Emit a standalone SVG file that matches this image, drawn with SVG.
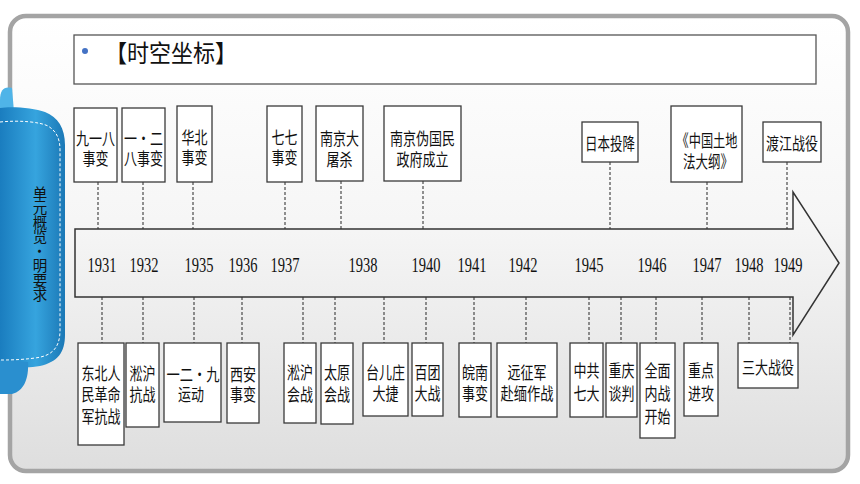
<svg xmlns="http://www.w3.org/2000/svg" width="860" height="484" viewBox="0 0 860 484">
<defs>
<linearGradient id="panel" x1="0" y1="0" x2="0" y2="1">
<stop offset="0" stop-color="#ffffff"/>
<stop offset="0.45" stop-color="#f6f6f6"/>
<stop offset="1" stop-color="#dedede"/>
</linearGradient>
<linearGradient id="tab" x1="0" y1="0" x2="1" y2="0">
<stop offset="0" stop-color="#1a7dbf"/>
<stop offset="0.55" stop-color="#36a4de"/>
<stop offset="1" stop-color="#1b78b6"/>
</linearGradient>
<style>
.box{fill:#ffffff;stroke:#3a3a3a;stroke-width:1.3}
.t{font-family:"Noto Sans CJK SC","Noto Sans",sans-serif;font-size:17px;fill:#111;text-anchor:middle;dominant-baseline:central}
.yr{font-family:"Liberation Serif","DejaVu Serif",serif;font-size:20px;fill:#111;text-anchor:middle}
.dash{stroke:#3a3a3a;stroke-width:1.1;stroke-dasharray:3 2;fill:none}
</style>
</defs>
<rect x="0" y="0" width="860" height="484" fill="#ffffff"/>
<rect x="10" y="16" width="838" height="455" rx="16" fill="url(#panel)" stroke="#a4a4a4" stroke-width="4.5"/>
<g id="title">
<rect x="74" y="35" width="742" height="49" fill="#ffffff" stroke="#555" stroke-width="1.3"/>
<circle cx="85" cy="51" r="3" fill="#4472c4"/>
<text x="105" y="51" font-family="'Noto Sans CJK SC','Noto Sans',sans-serif" font-size="24" fill="#111" dominant-baseline="central" textLength="132" lengthAdjust="spacingAndGlyphs">【时空坐标】</text>
</g>
<g id="tab">
<path d="M0,100 C0,90 4,86 12,88 L14,112 L0,112 Z" fill="#4fb4e8"/>
<path d="M0,108 C12,106 34,108 45,112 C58,117 65,128 65,145 L65,335 C65,352 58,362 40,366 C25,369 10,366 0,365 Z" fill="url(#tab)"/>
<path d="M0,360 L28,362 C29,378 24,391 12,394 L0,394 Z" fill="#2a8fcf"/>
<path d="M0,122 C20,120 40,122 48,126 C56,131 60,138 60,150 L60,330 C60,348 52,356 35,358 C20,360 8,360 0,360" fill="none" stroke="#ffffff" stroke-width="1" stroke-dasharray="3 2"/>
<text x="40" y="244" writing-mode="vertical-rl" text-anchor="middle" font-family="'Noto Sans CJK SC','Noto Sans',sans-serif" font-size="14.5" fill="#111">单元概览·明要求</text>
</g>
<g id="connectors">
<path class="dash" d="M98,182V229M143,182V229M193,182V229M285,182V229M341,181V229M423,181V229M610,162V229M707,182V229M787,162V229"/>
<path class="dash" d="M102,297V343M143,297V343M194,297V343M242,297V343M303,297V343M335,297V343M384,297V343M426,297V343M474,297V343M526,297V343M589,297V343M621,297V343M656,297V343M702,297V343M749,297V343M790,297V343"/>
</g>
<g id="timeline">
<path d="M75,229 L793,229 L793,192 L839,263 L793,335 L793,297 L75,297 Z" fill="none" stroke="#333" stroke-width="1.5" stroke-linejoin="miter"/>
<text class="yr" y="272" x="102" textLength="29" lengthAdjust="spacingAndGlyphs">1931</text>
<text class="yr" y="272" x="144" textLength="29" lengthAdjust="spacingAndGlyphs">1932</text>
<text class="yr" y="272" x="199" textLength="29" lengthAdjust="spacingAndGlyphs">1935</text>
<text class="yr" y="272" x="243" textLength="29" lengthAdjust="spacingAndGlyphs">1936</text>
<text class="yr" y="272" x="285" textLength="29" lengthAdjust="spacingAndGlyphs">1937</text>
<text class="yr" y="272" x="363" textLength="29" lengthAdjust="spacingAndGlyphs">1938</text>
<text class="yr" y="272" x="426" textLength="29" lengthAdjust="spacingAndGlyphs">1940</text>
<text class="yr" y="272" x="472" textLength="29" lengthAdjust="spacingAndGlyphs">1941</text>
<text class="yr" y="272" x="523" textLength="29" lengthAdjust="spacingAndGlyphs">1942</text>
<text class="yr" y="272" x="589" textLength="29" lengthAdjust="spacingAndGlyphs">1945</text>
<text class="yr" y="272" x="652" textLength="29" lengthAdjust="spacingAndGlyphs">1946</text>
<text class="yr" y="272" x="707" textLength="29" lengthAdjust="spacingAndGlyphs">1947</text>
<text class="yr" y="272" x="749" textLength="29" lengthAdjust="spacingAndGlyphs">1948</text>
<text class="yr" y="272" x="788" textLength="29" lengthAdjust="spacingAndGlyphs">1949</text>
</g>
<g id="n1"><rect class="box" x="74" y="108" width="43" height="74"/><text class="t"><tspan x="95.5" y="137" textLength="39" lengthAdjust="spacingAndGlyphs">九一八</tspan><tspan x="95.5" y="157" textLength="26" lengthAdjust="spacingAndGlyphs">事变</tspan></text></g>
<g id="n2"><rect class="box" x="122" y="108" width="43" height="74"/><text class="t"><tspan x="143.5" y="137" textLength="39" lengthAdjust="spacingAndGlyphs">一·二</tspan><tspan x="143.5" y="157" textLength="39" lengthAdjust="spacingAndGlyphs">八事变</tspan></text></g>
<g id="n3"><rect class="box" x="177" y="106" width="35" height="76"/><text class="t"><tspan x="194.5" y="136" textLength="26" lengthAdjust="spacingAndGlyphs">华北</tspan><tspan x="194.5" y="156" textLength="26" lengthAdjust="spacingAndGlyphs">事变</tspan></text></g>
<g id="n4"><rect class="box" x="267" y="106" width="35" height="76"/><text class="t"><tspan x="284.5" y="136" textLength="26" lengthAdjust="spacingAndGlyphs">七七</tspan><tspan x="284.5" y="156" textLength="26" lengthAdjust="spacingAndGlyphs">事变</tspan></text></g>
<g id="n5"><rect class="box" x="316" y="106" width="47" height="75"/><text class="t"><tspan x="339.5" y="137" textLength="39" lengthAdjust="spacingAndGlyphs">南京大</tspan><tspan x="339.5" y="158" textLength="26" lengthAdjust="spacingAndGlyphs">屠杀</tspan></text></g>
<g id="n6"><rect class="box" x="384" y="106" width="77" height="75"/><text class="t"><tspan x="422.5" y="137" textLength="65" lengthAdjust="spacingAndGlyphs">南京伪国民</tspan><tspan x="422.5" y="158" textLength="52" lengthAdjust="spacingAndGlyphs">政府成立</tspan></text></g>
<g id="n7"><rect class="box" x="582" y="122" width="56" height="40"/><text class="t" x="610" y="142" textLength="50" lengthAdjust="spacingAndGlyphs">日本投降</text></g>
<g id="n8"><rect class="box" x="671" y="106" width="71" height="76"/><text class="t"><tspan x="707" y="139" textLength="61" lengthAdjust="spacingAndGlyphs">《中国土地</tspan><tspan x="708" y="160" textLength="50" lengthAdjust="spacingAndGlyphs">法大纲》</tspan></text></g>
<g id="n9"><rect class="box" x="763" y="122" width="58" height="40"/><text class="t" x="792" y="142" textLength="52" lengthAdjust="spacingAndGlyphs">渡江战役</text></g>
<g id="b1"><rect class="box" x="78" y="343" width="46" height="102"/><text class="t"><tspan x="101" y="372" textLength="39" lengthAdjust="spacingAndGlyphs">东北人</tspan><tspan x="101" y="393" textLength="39" lengthAdjust="spacingAndGlyphs">民革命</tspan><tspan x="101" y="415" textLength="39" lengthAdjust="spacingAndGlyphs">军抗战</tspan></text></g>
<g id="b2"><rect class="box" x="126" y="343" width="33" height="84"/><text class="t"><tspan x="142.5" y="372" textLength="26" lengthAdjust="spacingAndGlyphs">淞沪</tspan><tspan x="142.5" y="393" textLength="26" lengthAdjust="spacingAndGlyphs">抗战</tspan></text></g>
<g id="b3"><rect class="box" x="164" y="343" width="57" height="79"/><text class="t"><tspan x="193" y="373" textLength="53" lengthAdjust="spacingAndGlyphs">一二·九</tspan><tspan x="191" y="393" textLength="26" lengthAdjust="spacingAndGlyphs">运动</tspan></text></g>
<g id="b4"><rect class="box" x="227" y="343" width="32" height="80"/><text class="t"><tspan x="243" y="373" textLength="26" lengthAdjust="spacingAndGlyphs">西安</tspan><tspan x="243" y="393" textLength="26" lengthAdjust="spacingAndGlyphs">事变</tspan></text></g>
<g id="b5"><rect class="box" x="284" y="343" width="32" height="80"/><text class="t"><tspan x="300" y="371" textLength="26" lengthAdjust="spacingAndGlyphs">淞沪</tspan><tspan x="300" y="393" textLength="26" lengthAdjust="spacingAndGlyphs">会战</tspan></text></g>
<g id="b6"><rect class="box" x="321" y="343" width="32" height="81"/><text class="t"><tspan x="337" y="371" textLength="26" lengthAdjust="spacingAndGlyphs">太原</tspan><tspan x="337" y="393" textLength="26" lengthAdjust="spacingAndGlyphs">会战</tspan></text></g>
<g id="b7"><rect class="box" x="363" y="343" width="45" height="73"/><text class="t"><tspan x="385.5" y="371" textLength="39" lengthAdjust="spacingAndGlyphs">台儿庄</tspan><tspan x="385.5" y="392" textLength="26" lengthAdjust="spacingAndGlyphs">大捷</tspan></text></g>
<g id="b8"><rect class="box" x="412" y="343" width="31" height="73"/><text class="t"><tspan x="427.5" y="371" textLength="26" lengthAdjust="spacingAndGlyphs">百团</tspan><tspan x="427.5" y="392" textLength="26" lengthAdjust="spacingAndGlyphs">大战</tspan></text></g>
<g id="b9"><rect class="box" x="459" y="343" width="32" height="74"/><text class="t"><tspan x="475" y="371" textLength="26" lengthAdjust="spacingAndGlyphs">皖南</tspan><tspan x="475" y="392" textLength="26" lengthAdjust="spacingAndGlyphs">事变</tspan></text></g>
<g id="b10"><rect class="box" x="497" y="343" width="60" height="74"/><text class="t"><tspan x="527" y="371" textLength="39" lengthAdjust="spacingAndGlyphs">远征军</tspan><tspan x="527" y="392" textLength="53" lengthAdjust="spacingAndGlyphs">赴缅作战</tspan></text></g>
<g id="b11"><rect class="box" x="570" y="343" width="33" height="74"/><text class="t"><tspan x="586.5" y="369" textLength="26" lengthAdjust="spacingAndGlyphs">中共</tspan><tspan x="586.5" y="392" textLength="26" lengthAdjust="spacingAndGlyphs">七大</tspan></text></g>
<g id="b12"><rect class="box" x="606" y="343" width="31" height="74"/><text class="t"><tspan x="621.5" y="369" textLength="26" lengthAdjust="spacingAndGlyphs">重庆</tspan><tspan x="621.5" y="392" textLength="26" lengthAdjust="spacingAndGlyphs">谈判</tspan></text></g>
<g id="b13"><rect class="box" x="640" y="343" width="35" height="95"/><text class="t"><tspan x="657.5" y="369" textLength="26" lengthAdjust="spacingAndGlyphs">全面</tspan><tspan x="657.5" y="392" textLength="26" lengthAdjust="spacingAndGlyphs">内战</tspan><tspan x="657.5" y="415" textLength="26" lengthAdjust="spacingAndGlyphs">开始</tspan></text></g>
<g id="b14"><rect class="box" x="684" y="343" width="34" height="73"/><text class="t"><tspan x="701" y="369" textLength="26" lengthAdjust="spacingAndGlyphs">重点</tspan><tspan x="701" y="392" textLength="26" lengthAdjust="spacingAndGlyphs">进攻</tspan></text></g>
<g id="b15"><rect class="box" x="738" y="343" width="60" height="45"/><text class="t" x="768" y="366" textLength="52" lengthAdjust="spacingAndGlyphs">三大战役</text></g>
</svg>
